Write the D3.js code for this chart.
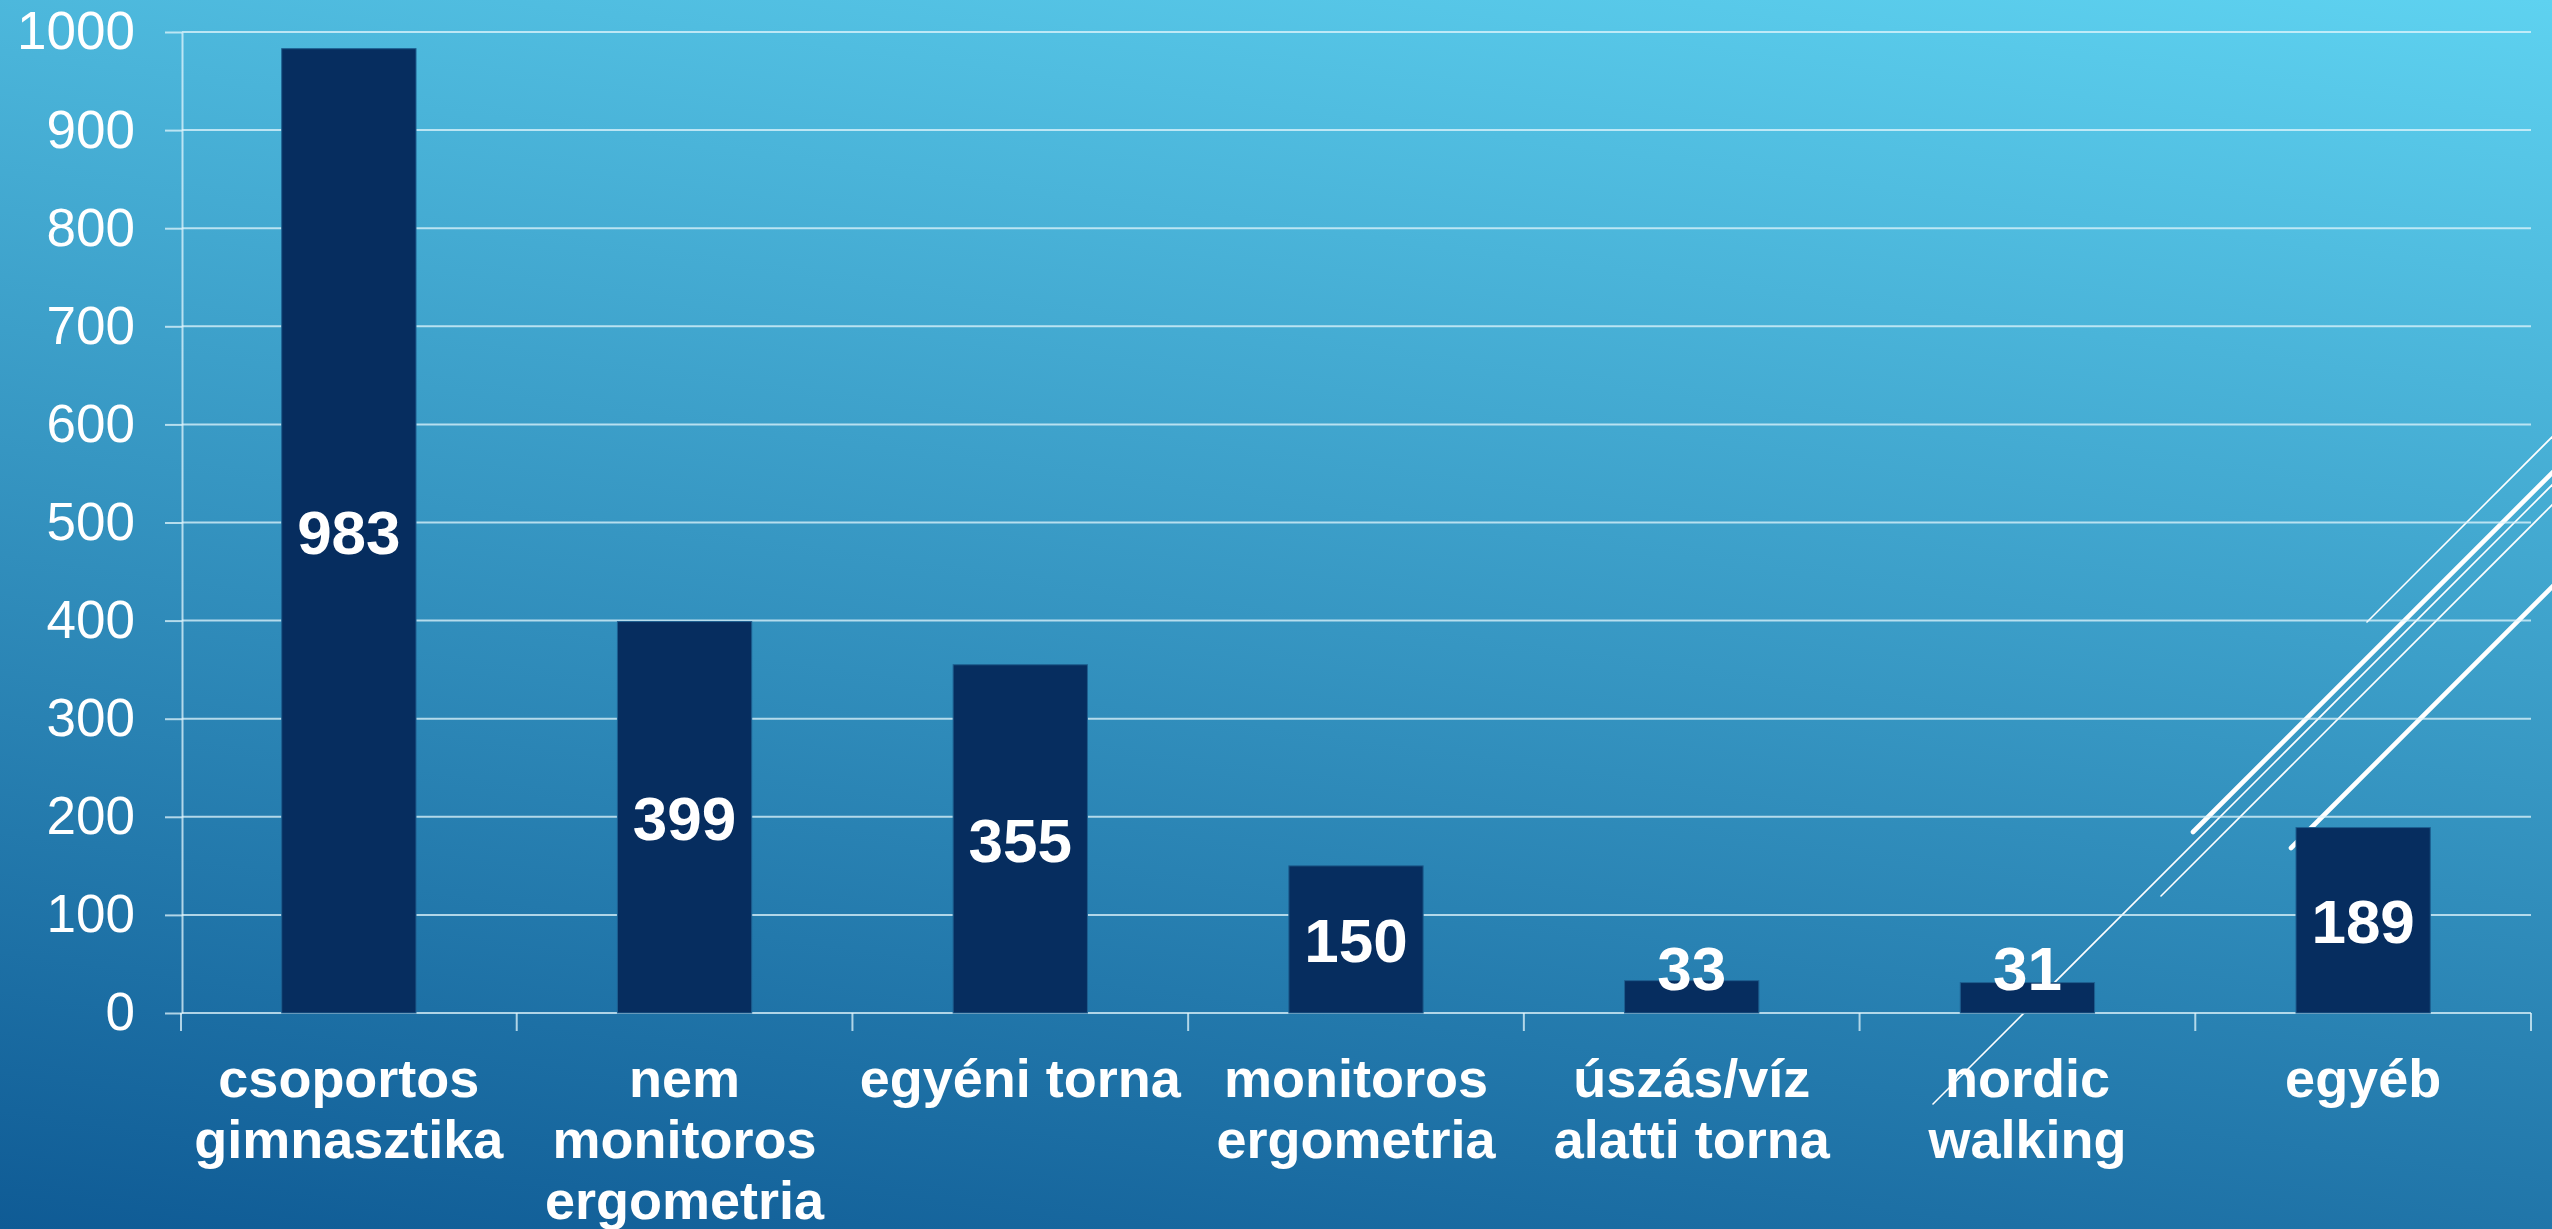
<!DOCTYPE html>
<html>
<head>
<meta charset="utf-8">
<script src="https://cdn.jsdelivr.net/npm/d3@7"></script>
<style>
  html, body { margin: 0; padding: 0; overflow: hidden; }
  svg { display: block; font-family: "Liberation Sans", Arial, sans-serif; }
</style>
</head>
<body>
<svg id="chart" width="2552" height="1229"></svg>
<script>
// data
const categories = ["csoportos gimnasztika", "nem monitoros ergometria", "egyéni torna",
  "monitoros ergometria", "úszás/víz alatti torna", "nordic walking", "egyéb"];
const counts = [983, 399, 355, 150, 33, 31, 189];
const yTicks = [0, 100, 200, 300, 400, 500, 600, 700, 800, 900, 1000];

// slide template decoration: diagonal strokes at the right
const decor = [
  { x1: 2367, y1: 622, x2: 2600, y2: 389, w: 1.6 },
  { x1: 2193, y1: 832, x2: 2600, y2: 425, w: 4.6 },
  { x1: 1933, y1: 1104, x2: 2600, y2: 437, w: 1.6 },
  { x1: 2161, y1: 896, x2: 2600, y2: 457, w: 1.6 },
  { x1: 2291, y1: 848, x2: 2600, y2: 539, w: 4.6 }
];

const W = 2552, H = 1229;
const svg = d3.select("svg#chart");

const defs = svg.append("defs");
const grad = defs.append("linearGradient")
  .attr("id", "bg")
  .attr("gradientUnits", "userSpaceOnUse")
  .attr("x1", 0).attr("y1", H)
  .attr("x2", 210).attr("y2", H - 1547);
grad.append("stop").attr("offset", 0).attr("stop-color", "#0f5b95");
grad.append("stop").attr("offset", 1).attr("stop-color", "#5ed2f0");

svg.append("rect")
  .attr("width", W).attr("height", H)
  .attr("fill", "url(#bg)");

svg.append("g").selectAll("line")
  .data(decor)
  .join("line")
    .attr("x1", d => d.x1).attr("y1", d => d.y1)
    .attr("x2", d => d.x2).attr("y2", d => d.y2)
    .attr("stroke", "#fff")
    .attr("stroke-width", d => d.w)
    .attr("stroke-linecap", "round");

const plotL = 182, plotR = 2531, plotT = 32, plotB = 1013;

const x = d3.scaleBand()
  .domain(categories)
  .range([plotL - 1, plotR])
  .paddingInner(0.6)
  .paddingOuter(0.3);

const y = d3.scaleLinear()
  .domain([0, 1000])
  .range([plotB, plotT]);

const gridColor = "rgba(225,245,252,0.75)";

// horizontal grid
svg.append("g").selectAll("line")
  .data(yTicks)
  .join("line")
    .attr("x1", plotL).attr("x2", plotR)
    .attr("y1", d => y(d)).attr("y2", d => y(d))
    .attr("stroke", gridColor)
    .attr("stroke-width", 2);

// y axis
const yAxis = svg.append("g")
  .attr("transform", `translate(${plotL},0)`)
  .call(d3.axisLeft(y).tickValues(yTicks).tickFormat(d3.format("d"))
    .tickSize(17).tickSizeOuter(0).tickPadding(30));
yAxis.select(".domain").attr("stroke", gridColor).attr("stroke-width", 2);
yAxis.selectAll(".tick line").attr("stroke", gridColor).attr("stroke-width", 2);
yAxis.selectAll(".tick text")
  .attr("fill", "#fff")
  .attr("font-size", 53)
  .attr("font-family", "'Liberation Sans', Arial, sans-serif");

// x axis ticks at band boundaries
const step = x.step();
const bounds = d3.range(categories.length + 1)
  .map(i => (i < categories.length ? x(categories[i]) + x.bandwidth() / 2 - step / 2 : x(categories[i - 1]) + x.bandwidth() / 2 + step / 2));
svg.append("g").selectAll("line")
  .data(bounds)
  .join("line")
    .attr("x1", d => d).attr("x2", d => d)
    .attr("y1", plotB).attr("y2", plotB + 18)
    .attr("stroke", gridColor)
    .attr("stroke-width", 2);

// bars
svg.append("g").selectAll("rect")
  .data(counts)
  .join("rect")
    .attr("x", (d, i) => x(categories[i]))
    .attr("y", d => y(d))
    .attr("width", x.bandwidth())
    .attr("height", d => y(0) - y(d))
    .attr("fill", "#062d5f")
    .attr("stroke", "#1e5f90")
    .attr("stroke-width", 1);

// value labels
svg.append("g").selectAll("text")
  .data(counts)
  .join("text")
    .attr("x", (d, i) => x(categories[i]) + x.bandwidth() / 2)
    .attr("y", d => Math.min((y(d) + y(0)) / 2 + 23, y(0) - 23))
    .attr("text-anchor", "middle")
    .attr("fill", "#fff")
    .attr("font-weight", "bold")
    .attr("font-size", 62)
    .text(d => d);

// category labels, wrapped to the band width
const labels = svg.append("g").selectAll("text")
  .data(categories)
  .join("text")
    .attr("x", d => x(d) + x.bandwidth() / 2)
    .attr("y", 1097)
    .attr("text-anchor", "middle")
    .attr("fill", "#fff")
    .attr("font-weight", "bold")
    .attr("font-size", 54);

labels.each(function (d) {
  const t = d3.select(this);
  const cx = t.attr("x");
  const words = d.split(" ");
  let line = [];
  let ts = t.append("tspan").attr("x", cx).attr("dy", 0);
  for (const w of words) {
    line.push(w);
    ts.text(line.join(" "));
    if (ts.node().getComputedTextLength() > step && line.length > 1) {
      line.pop();
      ts.text(line.join(" "));
      line = [w];
      ts = t.append("tspan").attr("x", cx).attr("dy", 61).text(w);
    }
  }
});
</script>
</body>
</html>
